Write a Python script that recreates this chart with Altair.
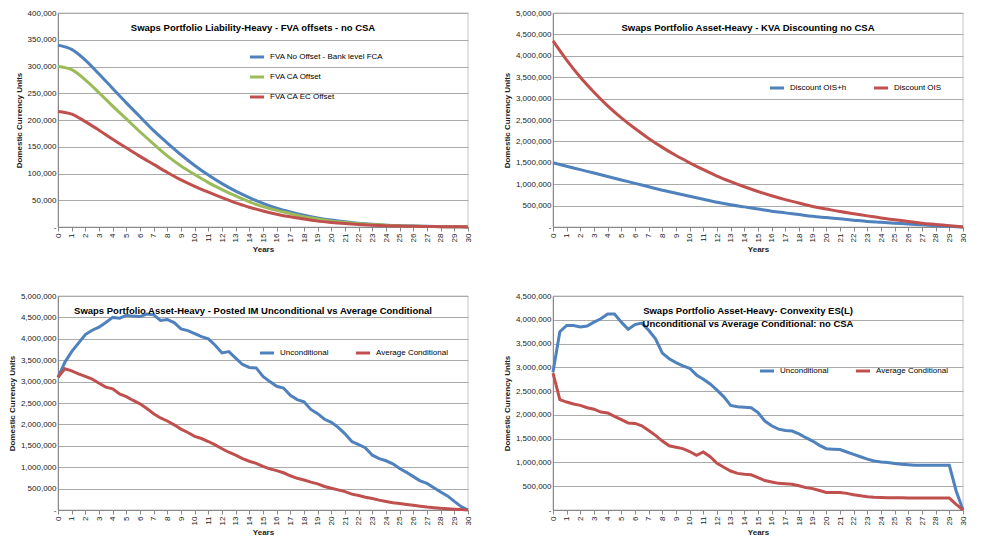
import altair as alt
import pandas as pd

BLUE, GREEN, RED = "#4F81BD", "#9BBB59", "#C0504D"
FONT = "Liberation Sans"

years = list(range(31))
half_years = [i / 2 for i in range(61)]

# top-left, thousands
fva_no_offset = [340, 332, 312, 286, 259, 232, 206, 180, 157, 135, 115, 97, 81, 67, 55, 44, 35, 28, 22, 17,
                 13, 10, 7, 5, 3.5, 2.5, 1.8, 1.2, 0.8, 0.5, 0.2]
fva_ca_offset = [300, 294, 275, 251, 226, 202, 178, 155, 133, 114, 98, 83, 70, 58, 47, 38, 31, 25, 19, 15,
                 11, 8.5, 6.5, 4.5, 3.2, 2.3, 1.6, 1.1, 0.7, 0.4, 0.2]
fva_ca_ec_offset = [216, 211, 197, 181, 164, 148, 132, 117, 102, 88, 76, 65, 55, 45, 37, 30, 24, 19, 15, 11,
                    8.5, 6.5, 4.8, 3.5, 2.5, 1.8, 1.3, 0.9, 0.6, 0.4, 0.2]

# top-right, millions
discount_ois_h = [1.5, 1.42, 1.34, 1.26, 1.18, 1.1, 1.02, 0.94, 0.86, 0.79, 0.72, 0.65, 0.58, 0.52, 0.47, 0.42,
                  0.37, 0.33, 0.29, 0.25, 0.22, 0.19, 0.16, 0.13, 0.11, 0.09, 0.07, 0.05, 0.03, 0.015, 0]
discount_ois = [4.35, 3.9, 3.5, 3.15, 2.83, 2.55, 2.3, 2.07, 1.86, 1.67, 1.5, 1.34, 1.19, 1.06, 0.94, 0.83,
                0.73, 0.64, 0.56, 0.48, 0.42, 0.36, 0.31, 0.26, 0.21, 0.17, 0.13, 0.09, 0.06, 0.03, 0]

# bottom-left, millions, half-year steps
im_uncond = [3.1, 3.45, 3.7, 3.9, 4.1, 4.2, 4.27, 4.38, 4.5, 4.48, 4.55, 4.53, 4.52, 4.58, 4.56, 4.43, 4.45,
             4.38, 4.23, 4.19, 4.12, 4.05, 4.0, 3.85, 3.67, 3.7, 3.55, 3.4, 3.33, 3.32, 3.12, 3.0, 2.89, 2.85,
             2.68, 2.58, 2.53, 2.35, 2.25, 2.12, 2.05, 1.93, 1.78, 1.6, 1.53, 1.45, 1.28, 1.2, 1.15, 1.08, 0.97,
             0.88, 0.78, 0.68, 0.62, 0.52, 0.42, 0.33, 0.2, 0.08, 0]
im_avg_cond = [3.1, 3.3, 3.25, 3.18, 3.12, 3.06, 2.96, 2.87, 2.83, 2.71, 2.65, 2.56, 2.48, 2.37, 2.25, 2.15,
               2.08, 1.99, 1.89, 1.81, 1.72, 1.67, 1.6, 1.52, 1.43, 1.35, 1.28, 1.2, 1.14, 1.09, 1.02, 0.96,
               0.92, 0.87, 0.8, 0.74, 0.7, 0.65, 0.61, 0.55, 0.51, 0.47, 0.43, 0.37, 0.34, 0.3, 0.27, 0.23,
               0.2, 0.17, 0.15, 0.13, 0.11, 0.09, 0.07, 0.055, 0.04, 0.03, 0.02, 0.01, 0]

# bottom-right, millions, half-year steps
es_uncond = [2.9, 3.75, 3.88, 3.88, 3.85, 3.87, 3.95, 4.02, 4.12, 4.12, 3.95, 3.8, 3.9, 3.93, 3.78, 3.6, 3.3,
             3.18, 3.1, 3.03, 2.98, 2.84, 2.75, 2.65, 2.52, 2.38, 2.2, 2.17, 2.16, 2.15, 2.05, 1.87, 1.77, 1.7,
             1.67, 1.66, 1.6, 1.52, 1.45, 1.36, 1.29, 1.28, 1.27, 1.22, 1.17, 1.12, 1.07, 1.03, 1.01, 1.0, 0.98,
             0.96, 0.95, 0.94, 0.94, 0.94, 0.94, 0.94, 0.94, 0.4, 0]
es_avg_cond = [2.88, 2.32, 2.27, 2.23, 2.2, 2.15, 2.12, 2.06, 2.04, 1.97, 1.9, 1.83, 1.82, 1.77, 1.67, 1.57,
               1.45, 1.35, 1.32, 1.29, 1.23, 1.15, 1.22, 1.12, 0.98, 0.9, 0.82, 0.77, 0.75, 0.74, 0.68, 0.62,
               0.59, 0.56, 0.55, 0.54, 0.51, 0.47, 0.45, 0.41, 0.37, 0.37, 0.37, 0.35, 0.32, 0.3, 0.28, 0.27,
               0.265, 0.26, 0.26, 0.255, 0.25, 0.25, 0.25, 0.25, 0.25, 0.25, 0.25, 0.12, 0]


def frame(x, series, scale):
    rows = []
    for name, vals in series.items():
        for xi, v in zip(x, vals):
            rows.append({"Year": xi, "Value": v * scale, "Series": name})
    return pd.DataFrame(rows)


W, H = 410, 214


def panel(df, names, colors, title, ymax, ystep, lx, ly, direction, interp="linear"):
    lines = alt.Chart(df).mark_line(strokeWidth=3, interpolate=interp).encode(
        x=alt.X("Year:Q", scale=alt.Scale(domain=[0, 30], nice=False),
                axis=alt.Axis(values=years, labelAngle=-90, grid=False, title="Years",
                              labelFontSize=8, titleFontSize=8, tickSize=4, labelPadding=2)),
        y=alt.Y("Value:Q", scale=alt.Scale(domain=[0, ymax], nice=False),
                axis=alt.Axis(values=list(range(0, ymax + 1, ystep)), title="Domestic Currency Units",
                              labelExpr="datum.value == 0 ? '-' : format(datum.value, ',')",
                              labelFontSize=8, titleFontSize=8, gridColor="#aaaaaa",
                              ticks=False, domainColor="#888888")),
        color=alt.Color("Series:N", sort=names, scale=alt.Scale(domain=names, range=colors),
                        legend=alt.Legend(title=None, orient="none", legendX=lx, legendY=ly,
                                          direction=direction, symbolType="stroke",
                                          symbolStrokeWidth=3, symbolSize=200, labelFontSize=8,
                                          columnPadding=20, rowPadding=5)),
    )
    t = alt.Chart(pd.DataFrame({"t": [title]})).mark_text(
        fontWeight="bold", fontSize=9.5, align="center", baseline="top", lineHeight=13
    ).encode(text="t:N", x=alt.value(W / 2 - 10), y=alt.value(10))
    return alt.layer(lines, t).properties(width=W, height=H)


p1 = panel(frame(years, {"FVA No Offset - Bank level FCA": fva_no_offset,
                         "FVA CA Offset": fva_ca_offset,
                         "FVA CA EC Offset": fva_ca_ec_offset}, 1000),
           ["FVA No Offset - Bank level FCA", "FVA CA Offset", "FVA CA EC Offset"],
           [BLUE, GREEN, RED], ["Swaps Portfolio Liability-Heavy - FVA offsets - no CSA"],
           400000, 50000, 190, 35, "vertical", "monotone")
p2 = panel(frame(years, {"Discount OIS+h": discount_ois_h, "Discount OIS": discount_ois}, 1e6),
           ["Discount OIS+h", "Discount OIS"], [BLUE, RED],
           ["Swaps Portfolio Asset-Heavy - KVA Discounting no CSA"],
           5000000, 500000, 215, 66, "horizontal", "monotone")
p3 = panel(frame(half_years, {"Unconditional": im_uncond, "Average Conditional": im_avg_cond}, 1e6),
           ["Unconditional", "Average Conditional"], [BLUE, RED],
           ["Swaps Portfolio Asset-Heavy - Posted IM Unconditional vs Average Conditional"],
           5000000, 500000, 200, 48, "horizontal")
p4 = panel(frame(half_years, {"Unconditional": es_uncond, "Average Conditional": es_avg_cond}, 1e6),
           ["Unconditional", "Average Conditional"], [BLUE, RED],
           ["Swaps Portfolio Asset-Heavy- Convexity ES(L)", "Unconditional vs Average Conditional: no CSA"],
           4500000, 500000, 205, 66, "horizontal")

top = alt.hconcat(p1, p2, spacing=28).resolve_scale(color="independent")
bottom = alt.hconcat(p3, p4, spacing=28).resolve_scale(color="independent")
chart = alt.vconcat(top, bottom, spacing=36).resolve_scale(color="independent").configure(
    font=FONT
).configure_view(stroke="#888888", strokeWidth=0.5).configure_axis(
    labelColor="#222222", titleColor="#222222", labelFont=FONT, titleFont=FONT
).configure_legend(labelFont=FONT).properties(padding={"left": 0, "top": 0, "right": 2, "bottom": 0})

chart.save("out.html", embed_options={"renderer": "svg", "actions": False})
